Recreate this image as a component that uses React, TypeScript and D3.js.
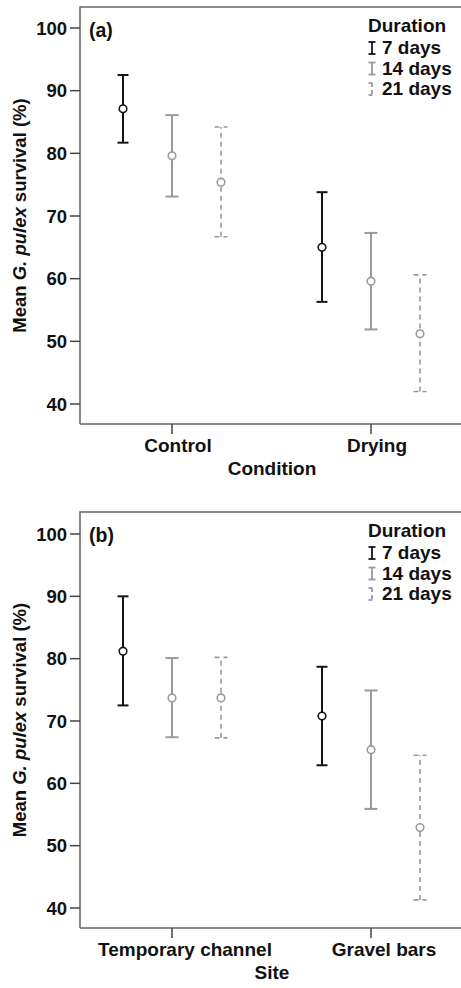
import React from 'react'
import * as d3 from 'd3'

// durations and their styles
const durations = ['7 days', '14 days', '21 days']

// panel (a): Condition
const conditions = ['Control', 'Drying']
const condMean = [[87.1, 79.6, 75.4], [65.0, 59.6, 51.2]]
const condLow = [[81.7, 73.1, 66.7], [56.3, 51.9, 42.0]]
const condHigh = [[92.5, 86.1, 84.2], [73.8, 67.3, 60.6]]

// panel (b): Site
const sites = ['Temporary channel', 'Gravel bars']
const siteMean = [[81.2, 73.7, 73.7], [70.8, 65.4, 52.9]]
const siteLow = [[72.5, 67.4, 67.3], [62.9, 55.9, 41.3]]
const siteHigh = [[90.0, 80.1, 80.2], [78.7, 74.9, 64.5]]

const yTicks = [40, 50, 60, 70, 80, 90, 100]

const W = 461
const H = 988
const FONT = '"Liberation Sans", Arial, sans-serif'
const styles = [
  { stroke: '#151515', width: 2, dash: undefined as string | undefined },
  { stroke: '#9a9a9a', width: 2, dash: undefined as string | undefined },
  { stroke: '#9a9a9a', width: 1.6, dash: '5,4' },
]

interface PanelProps {
  label: string
  cats: string[]
  mean: number[][]
  low: number[][]
  high: number[][]
  xTitle: string
  top: number
  bottom: number
  y40: number
  y100: number
  catDx: number
}

const Panel: React.FC<PanelProps> = ({ label, cats, mean, low, high, xTitle, top, bottom, y40, y100, catDx }) => {
  const left = 80
  const y = d3.scaleLinear().domain([40, 100]).range([y40, y100])
  const x = d3.scalePoint<string>().domain(cats).range([172, 371])
  const off = d3.scalePoint<string>().domain(durations).range([-49, 49])
  const mid = (top + bottom) / 2

  return (
    <g fontFamily={FONT} fontWeight="bold">
      {/* frame */}
      <path d={`M${left},${bottom}V${top}H${W}`} fill="none" stroke="#666" strokeWidth={1.5} />
      <line x1={left} x2={W} y1={bottom} y2={bottom} stroke="#666" strokeWidth={1.5} />

      {/* y axis */}
      {yTicks.map(t => (
        <g key={t}>
          <line x1={left - 10} x2={left} y1={y(t)} y2={y(t)} stroke="#444" strokeWidth={1.5} />
          <text x={left - 13} y={y(t)} dy="0.36em" textAnchor="end" fontSize={18.5} fill="#111">{t}</text>
        </g>
      ))}
      <text transform={`translate(26,${mid}) rotate(-90)`} textAnchor="middle" fontSize={18.5} fill="#111">
        Mean <tspan fontStyle="italic">G. pulex</tspan> survival (%)
      </text>

      {/* x axis */}
      {cats.map(c => (
        <g key={c}>
          <line x1={x(c)!} x2={x(c)!} y1={bottom} y2={bottom + 10} stroke="#444" strokeWidth={1.5} />
          <text x={x(c)! + catDx} y={bottom + 28} textAnchor="middle" fontSize={19} fill="#111">{c}</text>
        </g>
      ))}
      <text x={272} y={bottom + 51} textAnchor="middle" fontSize={19} fill="#111">{xTitle}</text>

      <text x={89} y={top + 30} fontSize={19.5} fill="#111">{label}</text>

      {/* error bars */}
      {cats.map((c, ci) => durations.map((d, di) => {
        const cx = x(c)! + off(d)!
        const s = styles[di]
        const cap = di === 0 ? 5.5 : 6.5
        return (
          <g key={c + d} stroke={s.stroke} strokeWidth={s.width} strokeDasharray={s.dash}>
            <line x1={cx} x2={cx} y1={y(low[ci][di])} y2={y(high[ci][di])} />
            <line x1={cx - cap} x2={cx + cap} y1={y(high[ci][di])} y2={y(high[ci][di])} />
            <line x1={cx - cap} x2={cx + cap} y1={y(low[ci][di])} y2={y(low[ci][di])} />
            <circle cx={cx} cy={y(mean[ci][di])} r={3.8} fill="#fff" strokeDasharray="none" strokeWidth={1.6} />
          </g>
        )
      }))}

      {/* legend */}
      <g>
        <text x={368} y={top + 25} fontSize={19} fill="#111">Duration</text>
        {durations.map((d, i) => {
          const by = top + 47 + i * 20.5
          const s = styles[i]
          const ix = 372
          return (
            <g key={d}>
              <g stroke={s.stroke} strokeWidth={1.8} strokeDasharray={i === 2 ? '4,3' : undefined}>
                <line x1={ix} x2={ix} y1={by - 12} y2={by} />
                <line x1={ix - 3.5} x2={ix + 3.5} y1={by - 12} y2={by - 12} />
                <line x1={ix - 3.5} x2={ix + 3.5} y1={by} y2={by} />
              </g>
              <text x={382} y={by} fontSize={19} fill="#111">{d}</text>
            </g>
          )
        })}
      </g>
    </g>
  )
}

export default function App() {
  return (
    <svg width={W} height={H} style={{ position: 'absolute', left: 0, top: 0, background: '#fff' }}>
      <rect width={W} height={H} fill="#fff" />
      <Panel label="(a)" cats={conditions} mean={condMean} low={condLow} high={condHigh}
        xTitle="Condition" top={7} bottom={424} y40={404} y100={28} catDx={6} />
      <Panel label="(b)" cats={sites} mean={siteMean} low={siteLow} high={siteHigh}
        xTitle="Site" top={512} bottom={928} y40={908} y100={534} catDx={13} />
    </svg>
  )
}
